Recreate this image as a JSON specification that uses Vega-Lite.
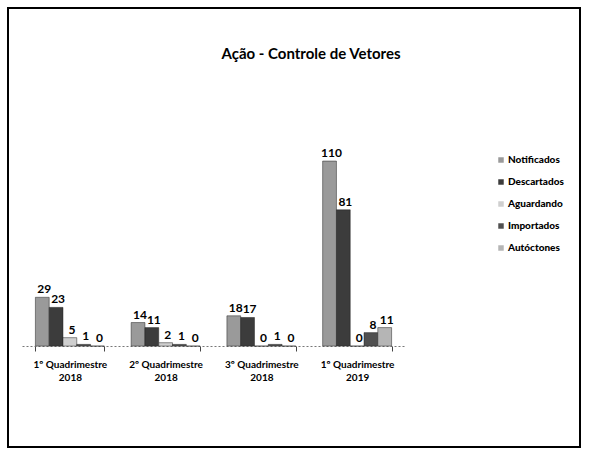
{
  "$schema": "https://vega.github.io/schema/vega-lite/v6.json",
  "autosize": {"type": "none"},
  "padding": {"left": 8, "top": 8, "right": 9, "bottom": 8},
  "width": 572,
  "height": 439,
  "background": "white",
  "title": {
    "text": "Ação - Controle de Vetores",
    "font": "Lato",
    "fontSize": 15,
    "fontWeight": "bold",
    "color": "black",
    "anchor": "middle",
    "offset": -54,
    "dx": 17
  },
  "config": {
    "view": {"stroke": "black", "strokeWidth": 2},
    "font": "Lato"
  },
  "data": {
    "values": [
      {"q": "1º Quadrimestre 2018", "s": "Notificados", "v": 29},
      {"q": "1º Quadrimestre 2018", "s": "Descartados", "v": 23},
      {"q": "1º Quadrimestre 2018", "s": "Aguardando", "v": 5},
      {"q": "1º Quadrimestre 2018", "s": "Importados", "v": 1},
      {"q": "1º Quadrimestre 2018", "s": "Autóctones", "v": 0},
      {"q": "2º Quadrimestre 2018", "s": "Notificados", "v": 14},
      {"q": "2º Quadrimestre 2018", "s": "Descartados", "v": 11},
      {"q": "2º Quadrimestre 2018", "s": "Aguardando", "v": 2},
      {"q": "2º Quadrimestre 2018", "s": "Importados", "v": 1},
      {"q": "2º Quadrimestre 2018", "s": "Autóctones", "v": 0},
      {"q": "3º Quadrimestre 2018", "s": "Notificados", "v": 18},
      {"q": "3º Quadrimestre 2018", "s": "Descartados", "v": 17},
      {"q": "3º Quadrimestre 2018", "s": "Aguardando", "v": 0},
      {"q": "3º Quadrimestre 2018", "s": "Importados", "v": 1},
      {"q": "3º Quadrimestre 2018", "s": "Autóctones", "v": 0},
      {"q": "1º Quadrimestre 2019", "s": "Notificados", "v": 110},
      {"q": "1º Quadrimestre 2019", "s": "Descartados", "v": 81},
      {"q": "1º Quadrimestre 2019", "s": "Aguardando", "v": 0},
      {"q": "1º Quadrimestre 2019", "s": "Importados", "v": 8},
      {"q": "1º Quadrimestre 2019", "s": "Autóctones", "v": 11}
    ]
  },
  "encoding": {
    "x": {
      "field": "q",
      "type": "nominal",
      "sort": null,
      "scale": {"range": [14, 397], "paddingInner": 0.28, "paddingOuter": 0.14},
      "axis": {
        "title": null,
        "orient": "bottom",
        "offset": -101,
        "labelAngle": 0,
        "labelFont": "Lato",
        "labelFontSize": 10,
        "labelFontWeight": 700,
        "labelColor": "black",
        "labelPadding": 8,
        "labelLineHeight": 13,
        "labelExpr": "[slice(datum.label, 0, 15), slice(datum.label, 16)]",
        "domainColor": "#777777",
        "domainDash": [2, 2],
        "domainWidth": 1,
        "tickBand": "extent",
        "tickColor": "#444444",
        "tickSize": 5,
        "tickWidth": 1
      }
    },
    "xOffset": {
      "field": "s",
      "type": "nominal",
      "sort": ["Notificados", "Descartados", "Aguardando", "Importados", "Autóctones"]
    },
    "y": {
      "field": "v",
      "type": "quantitative",
      "scale": {"domain": [-60, 201], "nice": false, "zero": false},
      "axis": null
    }
  },
  "layer": [
    {
      "mark": {"type": "bar", "stroke": "#222222", "strokeWidth": 0.5},
      "encoding": {
        "color": {
          "field": "s",
          "type": "nominal",
          "sort": ["Notificados", "Descartados", "Aguardando", "Importados", "Autóctones"],
          "scale": {
            "domain": ["Notificados", "Descartados", "Aguardando", "Importados", "Autóctones"],
            "range": ["#9a9a9a", "#3c3c3c", "#cfcfcf", "#505050", "#b5b5b5"]
          },
          "legend": {
            "title": null,
            "orient": "none",
            "legendX": 488,
            "legendY": 147,
            "symbolType": "square",
            "symbolSize": 30,
            "symbolStrokeWidth": 0,
            "labelFont": "Lato",
            "labelFontSize": 10,
            "labelFontWeight": 900,
            "labelColor": "black",
            "rowPadding": 12,
            "labelOffset": 2
          }
        }
      }
    },
    {
      "mark": {
        "type": "text",
        "dy": -8,
        "dx": 2,
        "font": "Lato",
        "fontSize": 12,
        "fontWeight": "bold",
        "color": "black"
      },
      "encoding": {
        "text": {"field": "v", "type": "quantitative"}
      }
    }
  ]
}
